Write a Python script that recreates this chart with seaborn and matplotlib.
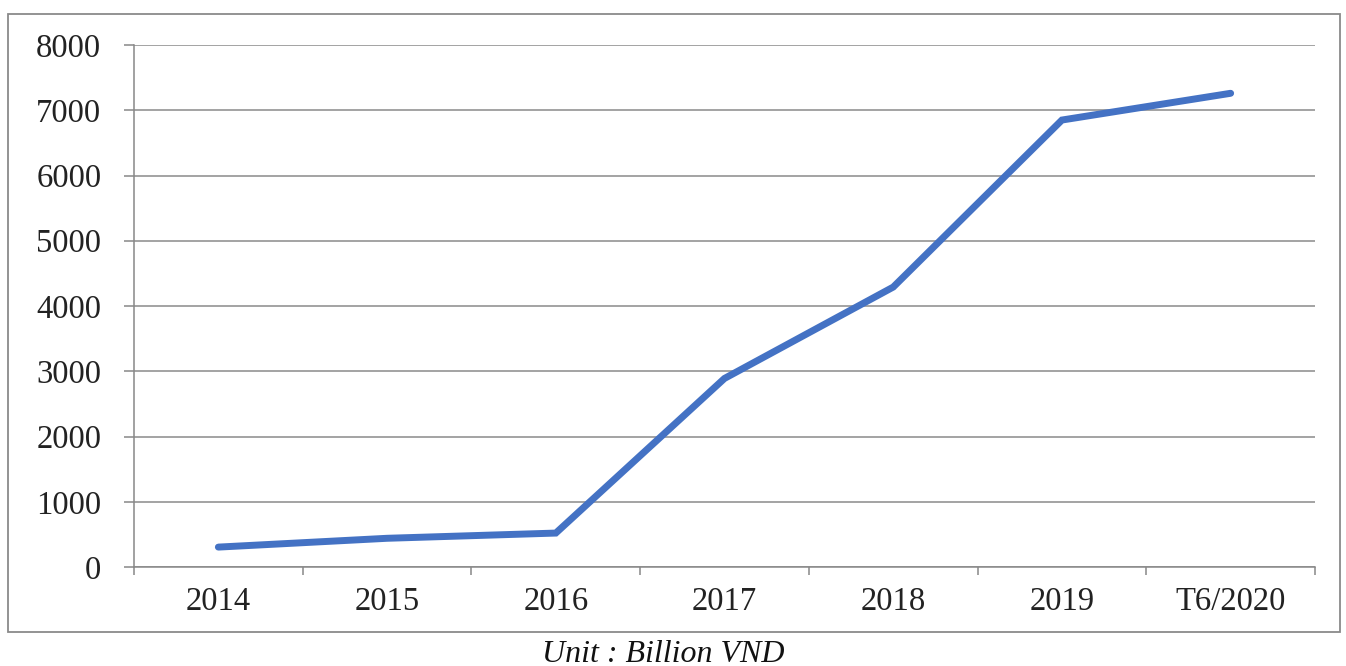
import matplotlib
matplotlib.use("Agg")
import matplotlib.pyplot as plt
import seaborn as sns
import pandas as pd
from matplotlib.patches import Rectangle
from matplotlib.ticker import FixedLocator

categories = ["2014", "2015", "2016", "2017", "2018", "2019", "T6/2020"]
values = [305, 440, 520, 2890, 4290, 6850, 7260]
y_ticks = [0, 1000, 2000, 3000, 4000, 5000, 6000, 7000, 8000]

sns.set_style("white")
plt.rcParams['font.family'] = ['Liberation Serif', 'DejaVu Serif']

W, H = 1346, 666
fig = plt.figure(figsize=(W / 100, H / 100), dpi=100)
ax = fig.add_axes([134 / W, 99 / H, (1315 - 134) / W, (567 - 45) / H])

df = pd.DataFrame({"cat": categories, "val": values, "x": range(len(categories))})
sns.lineplot(data=df, x="x", y="val", ax=ax, color="#4472C4", linewidth=5,
             solid_capstyle="round", solid_joinstyle="miter", zorder=3)

ax.set_xlim(-0.5, len(categories) - 0.5)
ax.set_ylim(0, 8000)
ax.set_yticks(y_ticks)
ax.set_yticklabels([str(v) for v in y_ticks])
ax.set_xticks(range(len(categories)))
ax.set_xticklabels(categories)
ax.xaxis.set_minor_locator(FixedLocator([i - 0.5 for i in range(len(categories) + 1)]))
ax.tick_params(axis="x", which="major", bottom=True, length=0, pad=14, labelsize=23.5,
               labelcolor="#222222")
ax.tick_params(axis="x", which="minor", bottom=True, length=5.5, width=1.1, color="#888888",
               direction="out")
ax.tick_params(axis="y", which="major", left=True, length=7.5, width=1.1, color="#888888",
               direction="out", pad=16, labelsize=23.5, labelcolor="#222222")
ax.set_xlabel("")
ax.set_ylabel("")

ax.grid(axis="y", color="#8a8a8a", linewidth=1.1)
ax.grid(axis="x", visible=False)
ax.set_axisbelow(True)
for s in ["top", "right"]:
    ax.spines[s].set_visible(False)
for s in ["left", "bottom"]:
    ax.spines[s].set_color("#888888")
    ax.spines[s].set_linewidth(1.1)

fig.patches.append(Rectangle((8 / W, 1 - 632 / H), (1340 - 8) / W, (632 - 14) / H,
                             transform=fig.transFigure, fill=False,
                             edgecolor="#8a8a8a", linewidth=1.3))
fig.text(663 / W, 1 - 654 / H, "Unit : Billion VND", ha="center", va="center",
         fontsize=23, style="italic", color="#111111")

fig.savefig("out.png", dpi=100)
